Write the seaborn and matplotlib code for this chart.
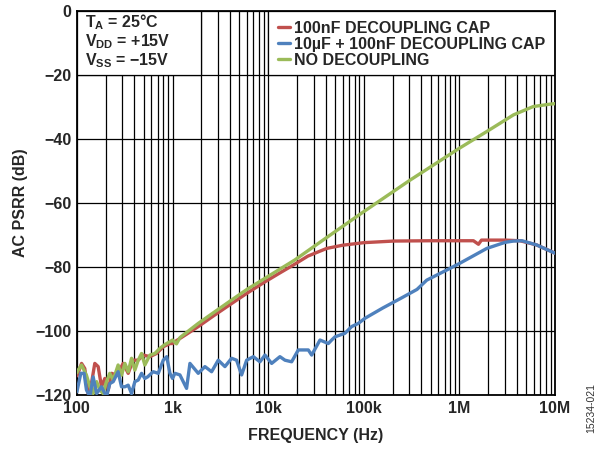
import pandas as pd
import matplotlib.pyplot as plt
import matplotlib.ticker as mticker
from matplotlib.patches import Rectangle
import seaborn as sns

# 100nF decoupling cap
red_freq = [100, 103, 112, 121, 131, 142, 154, 167, 181, 196, 213, 231, 260, 305, 344, 388,
            438, 494, 580, 681, 800, 940, 1000, 1100, 1400, 1860, 2700, 4150, 6000, 9300,
            13000, 18300, 26000, 40900, 60000, 100000, 204000, 500000, 1030000, 1400000,
            1580000, 1700000, 3000000, 4300000, 6400000, 10000000]
red_db = [-114, -113.2, -110.1, -111.7, -119.5, -116.4, -110.1, -111.1, -117.4, -114.8, -118.4,
          -113.2, -113.8, -110.1, -113.2, -109.1, -109.1, -107.5, -108.0, -107.0, -104.9, -103.9,
          -103.9, -103.0, -101.0, -98.6, -95.2, -91.4, -88.2, -84.6, -82.0, -79.4, -76.6, -74.2,
          -73.2, -72.4, -71.9, -71.8, -71.8, -71.8, -72.9, -71.6, -71.6, -71.8, -73.1, -75.7]

# 10uF + 100nF decoupling cap
blue_freq = [100, 110, 119, 126, 137, 148, 161, 181, 204, 221, 240, 270, 293, 318, 344, 373,
             404, 438, 475, 514, 550, 628, 710, 800, 870, 940, 1000, 1060, 1195, 1403, 1521,
             1858, 2183, 2564, 3006, 3532, 4150, 4677, 5280, 5957, 7000, 8210, 9266, 10880,
             13280, 14990, 17610, 20650, 26290, 28510, 34830, 42560, 46130, 50000, 63550,
             74640, 87690, 103000, 158000, 250000, 360000, 455000, 800000, 1000000, 1930000,
             3000000, 3670000, 4500000, 6400000, 10000000]
blue_db = [-119, -113.2, -113.2, -118.4, -120.5, -114.3, -119.5, -117.4, -120.5, -116.4, -115.8,
           -112.7, -117.4, -117.4, -116.9, -119.5, -115.8, -115.3, -113.2, -114.8, -114.3,
           -112.7, -113.2, -109.1, -108.0, -113.2, -114.8, -113.2, -113.7, -117.9, -110.1,
           -113.2, -111.1, -112.7, -109.1, -111.1, -108.5, -109.1, -113.7, -109.1, -108.0,
           -109.6, -107.5, -110.1, -108.0, -109.1, -109.6, -105.9, -105.9, -107.5, -102.8,
           -103.9, -102.8, -101.8, -100.7, -98.6, -97.6, -96.0, -92.8, -89.6, -87.0, -84.1,
           -80.4, -78.9, -74.2, -72.3, -71.9, -71.8, -73.1, -75.7]

# no decoupling
green_freq = [100, 103, 112, 126, 137, 148, 161, 174, 188, 204, 221, 240, 270, 293, 318, 344,
              373, 404, 438, 475, 514, 580, 654, 738, 833, 940, 1000, 1100, 1200, 1860, 2700,
              4150, 6000, 9300, 19000, 40000, 100000, 300000, 1000000, 1930000, 3670000,
              5900000, 9100000, 10000000]
green_db = [-113, -112.2, -110.6, -113.8, -117.4, -119.5, -115.8, -118.4, -119.5, -115.8, -113.2,
            -115.3, -110.6, -113.8, -110.1, -112.7, -108.5, -112.2, -109.1, -107.0, -110.6,
            -107.5, -107.0, -105.4, -104.2, -103.3, -102.8, -104.0, -102.0, -97.6, -94.2,
            -90.3, -87.0, -83.5, -77.8, -71.0, -62.7, -53.0, -42.9, -37.7, -32.5, -29.9,
            -29.1, -29.0]

labels = ["100nF DECOUPLING CAP", "10µF + 100nF DECOUPLING CAP", "NO DECOUPLING"]
colors = ["#C0504D", "#4F81BD", "#9BBB59"]
x_ticks = [1e2, 1e3, 1e4, 1e5, 1e6, 1e7]
x_ticklabels = ["100", "1k", "10k", "100k", "1M", "10M"]
y_ticks = [0, -20, -40, -60, -80, -100, -120]
conditions = ["T$_{A}$ = 25°C", "V$_{DD}$ = +15V", "V$_{SS}$ = \u221215V"]

df = pd.concat([
    pd.DataFrame({"freq": red_freq, "db": red_db, "series": labels[0]}),
    pd.DataFrame({"freq": green_freq, "db": green_db, "series": labels[2]}),
    pd.DataFrame({"freq": blue_freq, "db": blue_db, "series": labels[1]}),
])

sns.set_style("white")
plt.rcParams["font.family"] = ["Liberation Sans", "DejaVu Sans"]
plt.rcParams["font.weight"] = "bold"
plt.rcParams["mathtext.fontset"] = "custom"
plt.rcParams["mathtext.rm"] = "Liberation Sans:bold"
plt.rcParams["mathtext.bf"] = "Liberation Sans:bold"
plt.rcParams["mathtext.default"] = "bf"

fig = plt.figure(figsize=(6.1, 4.5), dpi=100)
ax = fig.add_axes([0.126, 0.122, 0.784, 0.854])

sns.lineplot(data=df, x="freq", y="db", hue="series", estimator=None, sort=False,
             hue_order=[labels[0], labels[2], labels[1]],
             palette={labels[0]: colors[0], labels[1]: colors[1], labels[2]: colors[2]},
             linewidth=2.4, ax=ax, legend=False, zorder=3)

ax.set_xscale("log")
ax.set_xlim(1e2, 1e7)
ax.set_ylim(-120, 0)
ax.xaxis.set_major_locator(mticker.FixedLocator(x_ticks))
ax.xaxis.set_major_formatter(mticker.FixedFormatter(x_ticklabels))
ax.xaxis.set_minor_locator(mticker.LogLocator(base=10, subs=range(2, 10), numticks=20))
ax.xaxis.set_minor_formatter(mticker.NullFormatter())
ax.set_yticks(y_ticks)
ax.set_yticklabels(["0" if v == 0 else "\u2212" + str(abs(v)) for v in y_ticks])

ax.set_axisbelow(True)
ax.grid(True, which="major", axis="both", color="black", linewidth=0.9)
ax.grid(True, which="minor", axis="x", color="black", linewidth=0.9)
ax.tick_params(which="both", length=0, labelsize=11.5, pad=4)
for s in ax.spines.values():
    s.set_color("black")
    s.set_linewidth(1.3)

ax.set_xlabel("FREQUENCY (Hz)", fontsize=11.5, fontweight="bold", labelpad=9)
ax.set_ylabel("AC PSRR (dB)", fontsize=11.5, fontweight="bold", labelpad=5)

# white boxes for the conditions text and legend
ax.add_patch(Rectangle((0, 100 / 120), 0.2602, 20 / 120, transform=ax.transAxes,
                       facecolor="white", edgecolor="black", linewidth=0.9, zorder=2))
ax.add_patch(Rectangle((0.4, 100 / 120), 0.6, 20 / 120, transform=ax.transAxes,
                       facecolor="white", edgecolor="black", linewidth=0.9, zorder=2))

for i, line in enumerate(conditions):
    ax.text(0.016, 0.957 - i * 0.0495, line, transform=ax.transAxes, ha="left",
            va="baseline", fontsize=11.5, fontweight="bold", zorder=4)

handles = [plt.Line2D([], [], color=c, linewidth=2.4) for c in colors]
leg = ax.legend(handles, labels, loc="upper left", bbox_to_anchor=(0.414, 0.982),
                frameon=False, handlelength=0.75, handletextpad=0.25, labelspacing=0.05,
                borderaxespad=0, borderpad=0.2, prop={"size": 11.5, "weight": "bold"})
leg.set_zorder(5)

fig.text(0.970, 0.093, "15234-021", rotation=90, fontsize=7.5, fontweight="normal",
         color="#333333", ha="center", va="center")

fig.savefig("out.png", dpi=100)
